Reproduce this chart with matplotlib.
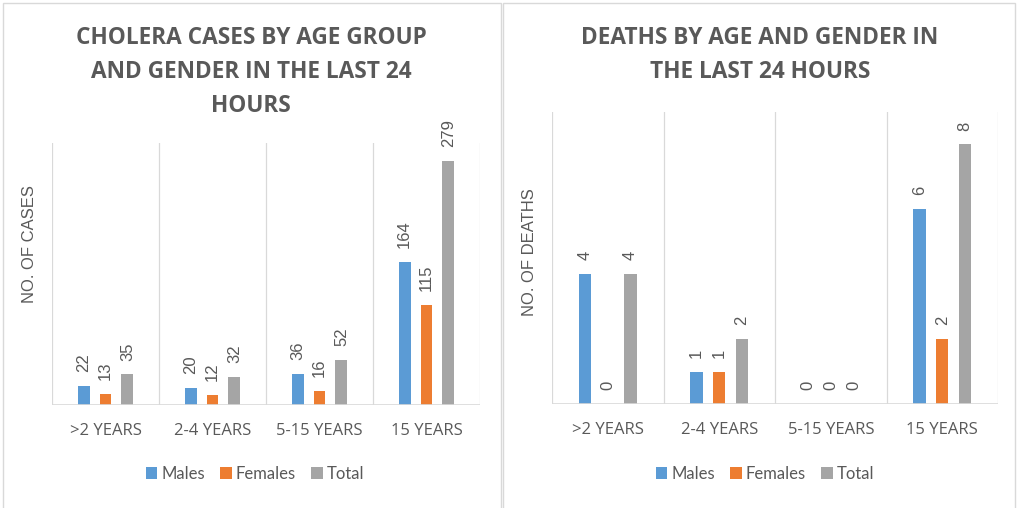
import matplotlib
matplotlib.use('Agg')
import matplotlib.pyplot as plt
import numpy as np
from matplotlib.patches import Rectangle, Patch

categories = ['>2 YEARS', '2-4 YEARS', '5-15 YEARS', '15 YEARS']
series = ['Males', 'Females', 'Total']
cases_males = [22, 20, 36, 164]
cases_females = [13, 12, 16, 115]
cases_total = [35, 32, 52, 279]
deaths_males = [4, 1, 0, 6]
deaths_females = [0, 1, 0, 2]
deaths_total = [4, 2, 0, 8]

colors = ['#5B9BD5', '#ED7D31', '#A5A5A5']
TXT = '#595959'
GRID = '#D9D9D9'
W, H = 1022, 508
fig = plt.figure(figsize=(W / 100, H / 100), dpi=100)


def ax_rect(x0, y0, x1, y1):
    return [x0 / W, 1 - y1 / H, (x1 - x0) / W, (y1 - y0) / H]


def draw_panel(ax, data, ymax):
    x = np.arange(len(categories))
    offsets = [-0.205, 0.0, 0.205]
    for vals, off, col in zip(data, offsets, colors):
        ax.bar(x + off, vals, width=0.112, color=col, zorder=3)
        for xi, v in zip(x, vals):
            ax.annotate(str(v), (xi + off, v), xytext=(0, 10),
                        textcoords='offset points', rotation=90,
                        ha='center', va='bottom', color=TXT,
                        fontsize=12, family='Liberation Sans')
    ax.set_xlim(-0.5, len(categories) - 0.5)
    ax.set_ylim(0, ymax)
    for b in np.arange(-0.5, len(categories), 1.0):
        ax.axvline(b, color=GRID, lw=0.9, zorder=1)
    ax.axhline(0, color=GRID, lw=1.2, zorder=4)
    for s in ax.spines.values():
        s.set_visible(False)
    ax.set_yticks([])
    ax.set_xticks(x)
    ax.set_xticklabels(categories, fontsize=12, color=TXT, family='Open Sans')
    ax.tick_params(axis='x', length=0, pad=13)


ax1 = fig.add_axes(ax_rect(52, 143, 480, 405))
draw_panel(ax1, [cases_males, cases_females, cases_total], 300)
ax2 = fig.add_axes(ax_rect(552, 112, 998, 404))
draw_panel(ax2, [deaths_males, deaths_females, deaths_total], 9)

# panel borders
for x0, x1 in [(3, 501), (503, 1015)]:
    fig.patches.append(Rectangle((x0 / W, -0.1), (x1 - x0) / W, 1.1 - 3 / H,
                                 transform=fig.transFigure, fill=False,
                                 edgecolor=GRID, lw=1.0))

# titles
fig.text(251 / W, 1 - 26 / H,
         'CHOLERA CASES BY AGE GROUP\nAND GENDER IN THE LAST 24\nHOURS',
         ha='center', va='top', fontsize=16.3, fontweight='bold', color=TXT,
         family='Open Sans', linespacing=1.55)
fig.text(760 / W, 1 - 26 / H,
         'DEATHS BY AGE AND GENDER IN\nTHE LAST 24 HOURS',
         ha='center', va='top', fontsize=16.3, fontweight='bold', color=TXT,
         family='Open Sans', linespacing=1.55)

# y labels
fig.text(29 / W, 1 - 244 / H, 'NO. OF CASES', rotation=90, ha='center',
         va='center', fontsize=12, color=TXT, family='Liberation Sans')
fig.text(529 / W, 1 - 252 / H, 'NO. OF DEATHS', rotation=90, ha='center',
         va='center', fontsize=12, color=TXT, family='Liberation Sans')

# legends
handles = [Patch(facecolor=c, edgecolor='none') for c in colors]
for cx in [255, 765]:
    fig.legend(handles, series, loc='center', bbox_to_anchor=(cx / W, 1 - 474 / H),
               ncol=3, frameon=False, handlelength=0.7, handleheight=0.7,
               handletextpad=0.25, columnspacing=0.9,
               prop={'family': 'Lato', 'size': 12}, labelcolor=TXT)

fig.savefig('out.png', dpi=100)
